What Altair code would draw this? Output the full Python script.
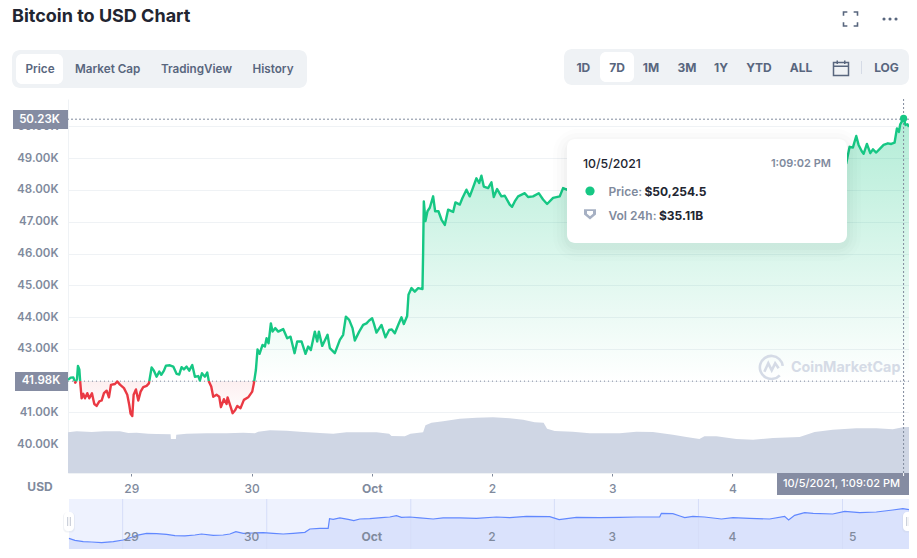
import altair as alt
import pandas as pd

# ---- values -----------------------------------------------------------
BASE = 41.98
CURRENT = 50.2545
CROSS_H = 154.15
X_DOMAIN = [-12.63, 155.23]

price_hours = [-12.63,-12.10,-11.57,-11.17,-10.84,-10.64,-10.37,-10.17,-9.91,-9.58,-9.24,-8.78,-8.38,-7.85,-7.38,-6.92,-6.38,-5.92,-5.45,-4.92,-4.46,-4.06,-3.26,-2.79,-2.26,-1.46,-0.80,-0.40,-0.13,0.20,0.47,0.93,1.40,1.86,2.39,3.06,3.52,4.06,4.52,5.05,5.59,5.99,6.52,6.92,7.71,8.38,9.04,9.58,10.04,10.51,11.04,11.57,12.17,12.70,13.37,13.70,14.10,14.70,15.16,15.49,15.96,16.36,17.02,17.56,17.89,18.49,19.02,19.22,19.82,20.22,20.75,21.15,21.81,22.48,23.34,24.14,24.47,24.87,25.20,25.60,26.20,26.67,27.00,27.40,27.86,28.20,28.73,29.33,30.32,31.12,31.79,32.59,33.12,33.98,34.78,35.31,35.84,36.64,37.11,37.44,38.11,39.17,39.63,40.63,41.63,42.29,42.83,43.49,44.16,44.62,45.49,46.28,46.95,47.48,48.08,48.41,48.94,49.94,50.74,51.47,52.00,52.60,53.27,53.93,54.40,55.06,55.33,55.93,56.59,57.26,58.12,58.25,58.39,58.72,59.12,59.58,60.25,60.65,61.31,61.91,62.58,63.24,64.24,64.70,65.57,66.10,66.90,67.56,68.10,68.89,69.43,69.89,70.36,71.22,71.89,72.35,73.02,73.88,74.55,75.54,76.01,76.54,77.21,78.54,79.20,80.20,81.33,82.19,83.00,84.19,85.52,86.18,86.92,88,92,96,100,104,108,112,116,120,124,128,132,136,140,142.71,143.37,144.04,144.70,145.17,145.83,146.17,146.83,147.50,148.03,148.69,149.49,150.16,151.02,151.69,152.35,152.82,153.22,153.48,154.15,154.54,154.94,155.23]
price_k = [42.02,42.09,42.10,41.93,42.04,42.46,42.35,41.91,41.44,41.58,41.44,41.60,41.44,41.60,41.26,41.20,41.34,41.37,41.60,41.68,41.47,41.86,41.89,41.97,41.87,41.76,41.55,41.23,40.95,40.88,41.55,41.72,41.37,41.65,41.79,41.83,41.91,42.41,42.31,42.12,42.28,42.18,42.31,42.47,42.48,42.44,42.21,42.19,42.42,42.35,42.44,42.31,42.49,42.12,42.14,42.00,42.23,42.12,42.25,41.97,41.81,41.49,41.55,41.49,41.16,41.41,41.26,41.47,41.18,40.97,41.07,41.20,41.13,41.39,41.47,41.65,41.91,42.33,42.98,42.84,43.12,43.07,43.33,43.17,43.80,43.54,43.65,43.54,43.62,43.33,43.38,42.86,43.23,43.23,42.84,43.07,42.96,43.54,43.23,43.54,43.09,43.44,43.02,42.86,43.28,43.44,44.01,43.91,43.65,43.26,43.54,43.75,43.80,43.89,43.96,43.80,43.51,43.75,43.36,43.59,43.61,43.49,43.75,43.99,43.78,44.03,44.70,44.91,44.80,44.91,44.88,46.03,47.64,47.02,47.33,47.44,47.80,47.33,47.33,47.07,46.90,47.38,47.31,47.61,47.54,47.75,48.01,47.80,48.03,48.37,48.22,48.45,48.11,48.06,48.24,47.78,48.03,47.80,47.82,47.54,47.47,47.64,47.80,47.90,47.78,47.80,47.90,47.70,47.56,47.75,47.80,48.06,48.01,48.1,48.3,48.2,48.5,48.4,48.7,48.6,48.8,48.7,48.6,48.9,49.0,48.8,49.1,48.84,49.36,49.34,49.70,49.42,49.21,49.14,49.45,49.16,49.28,49.18,49.31,49.42,49.47,49.45,49.49,49.94,49.83,50.07,50.25,50.05,50.07,49.99]

vol_hours = [-12.63,-10.9,-7.9,-5.45,-2.26,-0.6,1.06,3.39,5.05,7.85,7.91,8.91,8.98,11.04,15.03,19.02,22.34,24.67,25.34,27.66,30.99,33.65,37.64,40.3,42.96,48.94,51.47,51.94,54.6,55.73,58.25,58.72,59.92,62.24,65.57,68.89,72.2,75.54,78.2,80.53,82.3,82.99,84.52,88.1,91.5,97.49,100.8,104.1,108.1,110.8,113.4,114.4,116.8,120.75,124.1,128.1,133.4,136.4,140.0,144.7,148.7,152.0,154.0,155.23]
vol_b = [31.02,31.79,31.28,31.79,31.79,30.52,30.77,30.0,29.75,29.5,25.94,25.94,29.24,30.0,30.26,30.26,30.77,30.26,31.53,32.55,32.30,31.53,30.52,30.0,31.02,31.02,30.0,28.23,27.97,30.0,31.02,36.36,38.40,39.42,41.45,42.2,42.47,41.7,40.7,38.65,38.4,33.82,32.04,31.53,30.26,30.26,31.53,31.28,29.24,27.46,25.94,27.97,27.97,25.94,25.43,26.7,27.46,31.28,33.06,34.08,34.08,33.31,34.84,35.09]

nav_hours = [-12.44,-11.24,-9.58,-7.91,-5.92,-3.59,-1.6,0.07,1.06,3.06,5.05,7.05,8.71,10.71,12.7,14.03,16.36,18.35,19.68,20.88,22.34,24.34,26.33,28.33,30.32,32.32,34.65,35.64,37.64,39.30,39.57,40.3,41.63,43.29,44.42,45.62,47.61,49.94,51.6,52.93,53.93,55.59,57.59,60.25,62.24,65.57,68.89,72.88,75.54,78.87,83.52,85.39,88.84,93.5,97.49,100.8,105.47,105.8,108.1,109.5,110.46,112.1,114.4,117.8,120.1,123.4,127.4,130.4,131.2,132.4,134.4,136.1,140.0,142.4,145.4,148.7,152.0,154.0,155.23]
nav_k = [41.91,41.35,40.98,40.89,40.70,40.98,41.44,42.19,42.74,43.30,43.20,43.02,42.65,42.56,42.83,43.11,42.74,42.83,43.11,43.76,43.30,43.39,43.48,43.30,43.11,43.30,43.57,44.50,44.69,44.69,47.37,47.19,47.56,47.19,46.82,47.28,47.37,47.65,47.83,48.20,47.74,47.83,47.56,47.28,47.56,47.56,47.46,47.83,47.65,48.02,47.93,47.09,47.74,47.65,47.74,47.83,47.83,48.85,48.76,48.11,47.65,48.02,47.83,47.28,47.65,47.46,47.28,48.02,47.0,48.30,49.04,48.85,48.67,49.41,49.04,49.22,49.78,50.15,49.87]
nav_grid_hours = [-1.72,27.04,55.79,84.45,113.2,141.96]

tick_hours = [0,24,48,72,96,120,144]
tick_labels = ["29","30","Oct","2","3","4","5"]
axis_hours = [0,24,48,72,96,120]  # the tick for the 5th lies under the time tag
price_ticks = [40,41,42,43,44,45,46,47,48,49,50]

# ---- colours ----------------------------------------------------------
GREEN, RED, GREY, DARK, SLATE = "#16c784", "#ea3943", "#808a9d", "#222531", "#58667e"
PANEL, VOL = "#eff2f5", "#cfd6e4"
FONT = "Inter"

# ---- split the line where it crosses the opening price ---------------
rows, seg = [], 0
for i, (h, p) in enumerate(zip(price_hours, price_k)):
    if i:
        h0, p0 = price_hours[i-1], price_k[i-1]
        if (p0 - BASE) * (p - BASE) < 0:
            hc = h0 + (BASE - p0) / (p - p0) * (h - h0)
            rows.append(dict(h=hc, p=BASE, seg=seg))
            seg += 1
            rows.append(dict(h=hc, p=BASE, seg=seg))
    rows.append(dict(h=h, p=p, seg=seg))
line_df = pd.DataFrame(rows)
line_df["side"] = line_df.groupby("seg")["p"].transform(lambda s: "up" if s.mean() >= BASE else "down")
line_df["up"] = line_df["p"].clip(lower=BASE)
line_df["down"] = line_df["p"].clip(upper=BASE)

vol_df = pd.DataFrame(dict(h=vol_hours, v=vol_b))
nav_df = pd.DataFrame(dict(h=nav_hours, p=nav_k))
nav_grid_df = pd.DataFrame(dict(h=nav_grid_hours))
tick_df = pd.DataFrame(dict(h=tick_hours, label=tick_labels))

# ---- scales -----------------------------------------------------------
xs = alt.Scale(domain=X_DOMAIN)
ys = alt.Scale(domain=[39.087, 50.866])
vs = alt.Scale(domain=[0, 285.4])
ns = alt.Scale(domain=[38.94, 52.83], range=[450, 400])
x_axis = alt.Axis(
    values=axis_hours,
    labelExpr="{0:'29',24:'30',48:'Oct',72:'2',96:'3',120:'4'}[datum.value]",
    grid=False, domainColor=PANEL, tickColor=GREY, tickSize=3, labelColor=GREY, labelFont=FONT,
    labelFontSize=12, labelPadding=7, labelOverlap=False,
    labelFontWeight={"condition": {"test": "datum.value == 48", "value": 700}, "value": 500})
X = alt.X("h:Q", scale=xs, title=None, axis=x_axis)
X_CROSS = alt.X(datum=CROSS_H, scale=xs, title=None, axis=x_axis)

OX, OY = 68, 99  # plot origin in page pixels


def box(x0, y0, x1, y1, color, r=0, opacity=1):
    return alt.Chart().mark_rect(color=color, cornerRadius=r, opacity=opacity).encode(
        x=alt.value(x0-OX), x2=alt.value(x1-OX), y=alt.value(y0-OY), y2=alt.value(y1-OY))


def txt(s, x, y, size=12, color=SLATE, weight=500, align="center"):
    return alt.Chart().mark_text(text=s, font=FONT, fontSize=size, color=color, fontWeight=weight,
                                 align=align, baseline="middle").encode(
        x=alt.value(x-OX), y=alt.value(y-OY))


def icon(path, x, y, w, stroke=None, fill=None, sw=1.5, opacity=1):
    kw = dict(shape=path, size=w*w, opacity=opacity)
    if stroke:
        kw.update(stroke=stroke, strokeWidth=sw, filled=False)
    else:
        kw.update(fill=fill, filled=True, strokeWidth=0)
    return alt.Chart().mark_point(**kw).encode(x=alt.value(x-OX), y=alt.value(y-OY))


layers = []

# price areas, with the price axis and its grid
layers.append(alt.Chart(line_df).mark_area(
    interpolate="linear",
    color=alt.Gradient(gradient="linear", x1=1, x2=1, y1=0, y2=1, stops=[
        alt.GradientStop(color="rgba(22,199,132,0.33)", offset=0),
        alt.GradientStop(color="rgba(22,199,132,0)", offset=1)])
).encode(
    x=X,
    y=alt.Y("up:Q", scale=ys, title=None, axis=alt.Axis(
        values=price_ticks, labelExpr="format(datum.value,'.2f')+'K'", grid=True, gridColor=PANEL,
        gridWidth=1, ticks=False, domain=True, domainColor=PANEL, labelColor=GREY, labelFont=FONT,
        labelFontSize=11.5, labelFontWeight=600, labelPadding=10, labelOverlap=False)),
    y2=alt.Y2(datum=BASE)))
layers.append(alt.Chart(line_df).mark_area(
    color=alt.Gradient(gradient="linear", x1=1, x2=1, y1=0, y2=1, stops=[
        alt.GradientStop(color="rgba(234,57,67,0.08)", offset=0),
        alt.GradientStop(color="rgba(234,57,67,0)", offset=1)])
).encode(x=X, y=alt.Y("down:Q", scale=ys, axis=None), y2=alt.Y2(datum=BASE)))

# volume
layers.append(alt.Chart(vol_df).mark_area(color=VOL).encode(
    x=X, y=alt.Y("v:Q", scale=vs, axis=None)))

# opening price and crosshair
layers.append(alt.Chart().mark_rule(color=GREY, strokeWidth=1, strokeDash=[1, 3]).encode(
    y=alt.Y(datum=BASE, scale=ys, axis=None)))
layers.append(alt.Chart().mark_rule(color=GREY, strokeWidth=1, strokeDash=[2, 2]).encode(
    y=alt.Y(datum=50.23, scale=ys, axis=None)))
layers.append(alt.Chart().mark_rule(color=GREY, strokeWidth=1, strokeDash=[2, 2]).encode(
    x=X_CROSS, y=alt.value(0), y2=alt.value(377)))

# price line
layers.append(alt.Chart(line_df).mark_line(strokeWidth=2.4, strokeJoin="round").encode(
    x=X, y=alt.Y("p:Q", scale=ys, axis=None), detail="seg:N",
    color=alt.Color("side:N", scale=alt.Scale(domain=["up", "down"], range=[GREEN, RED]), legend=None)))
layers.append(alt.Chart().mark_circle(color=GREEN, size=52, opacity=1).encode(
    x=X_CROSS, y=alt.Y(datum=CURRENT, scale=ys, axis=None)))

# price and time tags
layers.append(box(13, 110, 68, 129, "#858ca2"))
layers.append(txt("50.23K", 39.5, 119.5, 11.5, "#ffffff", 600))
layers.append(box(15, 372, 68, 391, "#858ca2"))
layers.append(txt("41.98K", 41, 381, 11.5, "#ffffff", 600))
layers.append(box(777, 473, 909, 495, "#858ca2"))
layers.append(txt("10/5/2021, 1:09:02 PM", 841.5, 484, 11, "#ffffff", 500))
layers.append(alt.Chart().mark_rule(color="#ffffff", strokeWidth=1).encode(
    x=X_CROSS, y=alt.value(374), y2=alt.value(377)))
layers.append(txt("USD", 40, 487, 12, GREY, 700))

# range navigator
layers.append(box(69, 499, 909, 549, "#eef2fe"))
layers.append(alt.Chart(nav_df).mark_area(color="#dae2fc").encode(
    x=X, y=alt.Y("p:Q", scale=ns, axis=None), y2=alt.value(450)))
layers.append(alt.Chart(nav_grid_df).mark_rule(color="#d5ddf8", strokeWidth=1).encode(
    x=X, y=alt.value(400), y2=alt.value(450)))
layers.append(alt.Chart(nav_df).mark_line(color="#6188ff", strokeWidth=1.2).encode(
    x=X, y=alt.Y("p:Q", scale=ns, axis=None)))
layers.append(alt.Chart(tick_df[tick_df.label != "Oct"]).mark_text(
    font=FONT, fontSize=12, color=GREY, fontWeight=500, baseline="middle").encode(
    x=X, y=alt.value(438), text="label:N"))
layers.append(alt.Chart(tick_df[tick_df.label == "Oct"]).mark_text(
    font=FONT, fontSize=12, color=GREY, fontWeight=700, baseline="middle").encode(
    x=X, y=alt.value(438), text="label:N"))
for left, right, bar in ((64, 74, 69), (903, 914, 908)):
    layers.append(box(left-1, 512.5, right+1, 532.5, "#c8cfdc", 4, 0.25))
    layers.append(box(left, 512, right, 531, "#ffffff", 4))
    layers.append(box(bar-1.8, 517, bar-0.8, 526, "#c0c6d2"))
    layers.append(box(bar+0.8, 517, bar+1.8, 526, "#c0c6d2"))

# watermark
layers.append(icon("M0.72,0.72 A1,1 0 1 1 0.98,-0.1 M-0.62,0.42 L-0.28,-0.32 L0.02,0.28 L0.32,-0.32 L0.62,0.1",
                   771.5, 367, 23, stroke="#d5dbe6", sw=2.6))
layers.append(txt("CoinMarketCap", 791, 368, 14.3, "#d5dbe6", 700, "left"))

# tooltip card
for grow, op in ((14, 0.008), (10, 0.01), (6, 0.012), (3, 0.015)):
    layers.append(box(567-grow, 139-grow+4, 847+grow, 243+grow+4, "#000000", 10+grow, op))
layers.append(box(567, 139, 847, 243, "#ffffff", 8))
layers.append(txt("10/5/2021", 583, 164, 12.3, DARK, 500, "left"))
layers.append(txt("1:09:02 PM", 831, 164, 11, GREY, 600, "right"))
layers.append(alt.Chart().mark_circle(color=GREEN, size=85, opacity=1).encode(
    x=alt.value(590-OX), y=alt.value(191-OY)))
layers.append(txt("Price:", 608.5, 192, 12, GREY, 600, "left"))
layers.append(txt("$50,254.5", 644.5, 192, 12, DARK, 700, "left"))
layers.append(icon("M-1,-0.8 L1,-0.8 L1,0.1 L0,0.9 L-1,0.1 Z", 590, 214, 12, fill="#a6b0c3"))
layers.append(icon("M-1,-0.8 L1,-0.8 L1,0.1 L0,0.9 L-1,0.1 Z", 590, 213.5, 6, fill="#ffffff"))
layers.append(txt("Vol 24h:", 608.5, 216, 12, GREY, 600, "left"))
layers.append(txt("$35.11B", 659, 216, 12, DARK, 700, "left"))

# page header
layers.append(txt("Bitcoin to USD Chart", 12, 17, 18, DARK, 700, "left"))
layers.append(icon("M-1,-0.45 L-1,-1 L-0.45,-1 M0.45,-1 L1,-1 L1,-0.45 M1,0.45 L1,1 L0.45,1 M-0.45,1 L-1,1 L-1,0.45",
                   850.5, 19, 14, stroke=SLATE, sw=1.6))
for dx in (884, 890, 896):
    layers.append(alt.Chart().mark_circle(color=SLATE, size=10, opacity=1).encode(
        x=alt.value(dx-OX), y=alt.value(19-OY)))

# chart type tabs
layers.append(box(12, 50, 307, 88, PANEL, 8))
layers.append(box(16, 54, 63, 84, "#ffffff", 6))
for label, cx in zip(["Price", "Market Cap", "TradingView", "History"], [40, 107.7, 196.5, 273]):
    layers.append(txt(label, cx, 69, 11.7, SLATE, 600))

# range buttons
layers.append(box(564, 49, 909, 85, PANEL, 8))
layers.append(box(600, 52, 634, 82, "#ffffff", 6))
for label, cx in zip(["1D", "7D", "1M", "3M", "1Y", "YTD", "ALL", "LOG"],
                     [583.3, 617, 651, 687, 721, 759, 801, 886.5]):
    layers.append(txt(label, cx, 68, 12, SLATE, 700))
layers.append(icon("M-1,-0.75 L1,-0.75 L1,1 L-1,1 Z M-1,-0.25 L1,-0.25 M-0.5,-1 L-0.5,-0.55 M0.5,-1 L0.5,-0.55",
                   841, 68, 15, stroke=SLATE, sw=1.5))
layers.append(box(861, 61, 862, 74, "#d5dbe6"))

chart = alt.layer(*layers).resolve_scale(y="independent").properties(
    width=841, height=374, autosize=alt.AutoSizeParams(type="none"),
    padding={"left": 60, "top": 91, "right": 0, "bottom": 76},
).configure_view(stroke=None)

chart.save("out.html", embed_options={"renderer": "svg", "actions": False})
